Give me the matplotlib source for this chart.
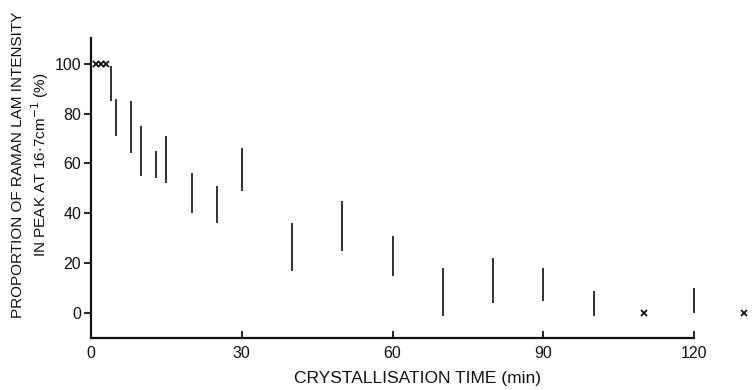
import matplotlib
matplotlib.use("Agg")
import matplotlib.pyplot as plt

# Range bars (min, low %, high %)
bar_times = [4, 5, 8, 10, 13, 15, 20, 25, 30, 40, 50, 60, 70, 80, 90, 100, 120]
bar_low = [85, 71, 64, 55, 54, 52, 40, 36, 49, 17, 25, 15, -1, 4, 5, -1, 0]
bar_high = [99, 86, 85, 75, 65, 71, 56, 51, 66, 36, 45, 31, 18, 22, 18, 9, 10]

# Single measurements (crosses)
cross_times = [1, 2, 3, 110, 130]
cross_vals = [100, 100, 100, 0, 0]

xticks = [0, 30, 60, 90, 120]
yticks = [0, 20, 40, 60, 80, 100]

plt.rcParams['font.family'] = ['Liberation Sans', 'DejaVu Sans']

fig = plt.figure(figsize=(7.55, 3.9), dpi=100)
W, H = 755, 390
left_px, right_px = 91, 91 + 131 * 5.025
top_px, bot_px = 37.5, 338
ax = fig.add_axes([left_px / W, 1 - bot_px / H, (right_px - left_px) / W, (bot_px - top_px) / H])

ax.vlines(bar_times, bar_low, bar_high, colors='#222222', linewidth=1.3)
ax.plot(cross_times, cross_vals, linestyle='none', marker='x', markersize=5,
        markeredgewidth=1.3, color='#111111', clip_on=False)

ax.set_xlim(0, 131)
ax.set_ylim(-10, 110.5)
ax.spines['top'].set_visible(False)
ax.spines['right'].set_visible(False)
ax.spines['bottom'].set_bounds(0, 120)
for s in ('left', 'bottom'):
    ax.spines[s].set_linewidth(1.6)
    ax.spines[s].set_color('#111111')

ax.set_xticks(xticks)
ax.set_xticklabels([str(v) for v in xticks])
ax.set_yticks(yticks)
ax.set_yticklabels([str(v) for v in yticks])
ax.tick_params(axis='x', direction='in', length=5, width=1.3, labelsize=11.5, pad=6, colors='#111111')
ax.tick_params(axis='y', direction='out', length=5, width=1.3, labelsize=11.5, pad=2, colors='#111111')

fig.text(418 / W, 1 - 379 / H, 'CRYSTALLISATION TIME (min)', ha='center', va='center',
         fontsize=12.5, color='#111111')
fig.text(31 / W, 1 - 165 / H,
         'PROPORTION OF RAMAN LAM INTENSITY\nIN PEAK AT 16·7cm$^{-1}$ (%)',
         rotation=90, ha='center', va='center', multialignment='center',
         fontsize=11, color='#111111', linespacing=1.3)

fig.savefig('out.png', dpi=100)
